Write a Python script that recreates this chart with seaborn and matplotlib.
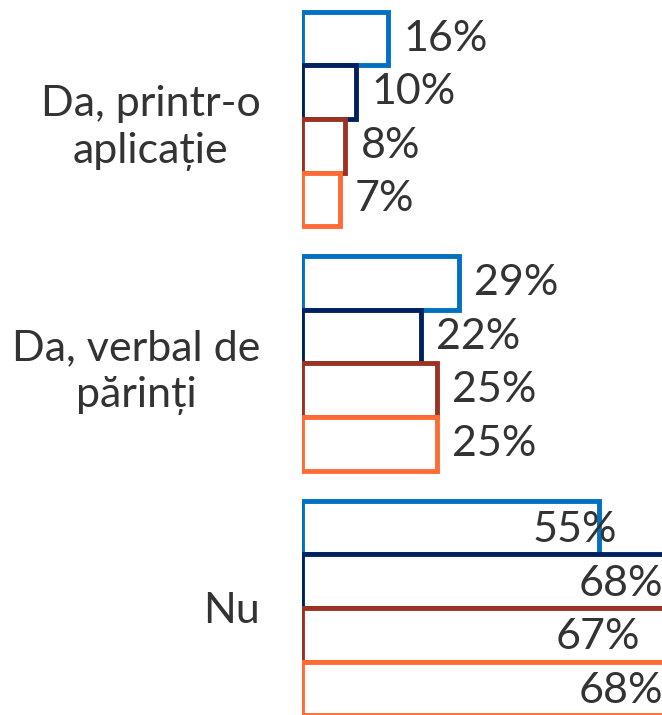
import matplotlib
matplotlib.use("Agg")
import matplotlib.pyplot as plt
import seaborn as sns
import pandas as pd

categories = ["Da, printr-o\naplicație", "Da, verbal de\npărinți", "Nu"]
series = ["Seria 1", "Seria 2", "Seria 3", "Seria 4"]
values_s1 = [16, 29, 55]
values_s2 = [10, 22, 68]
values_s3 = [8, 25, 67]
values_s4 = [7, 25, 68]
colors = ["#0070C0", "#002060", "#9B3324", "#FF6B35"]

rows = []
for s, vals in zip(series, [values_s1, values_s2, values_s3, values_s4]):
    for c, v in zip(categories, vals):
        rows.append({"cat": c, "series": s, "val": v})
df = pd.DataFrame(rows)

sns.set_theme(style="white")
plt.rcParams["font.family"] = ["Lato", "DejaVu Sans"]

fig = plt.figure(figsize=(6.62, 7.15), dpi=100)
ax = fig.add_axes([302 / 662, 0, 1 - 302 / 662, 1])

LW = 3.5
sns.barplot(data=df, y="cat", x="val", hue="series", palette=colors,
            order=categories, hue_order=series, width=0.877,
            orient="h", legend=False, ax=ax, linewidth=LW,
            saturation=1)

for p in ax.patches:
    ec = p.get_facecolor()
    p.set_edgecolor(ec)
    p.set_facecolor("white")
    p.set_linewidth(LW)

ax.set_xlim(0, 66.6)
ax.set_ylim(2.438, -0.487)

text_color = "#333333"
FS = 31
# label anchors for the last group (right-aligned inside due to clipping)
last_group_anchor = {55: 58.2, 68: 66.8, 67: 62.5}
n = len(series)
bw = 0.877 / n
for i, (s, vals) in enumerate(zip(series, [values_s1, values_s2, values_s3, values_s4])):
    for j, v in enumerate(vals):
        y = j - 0.877 / 2 + bw * (i + 0.5)
        if j < 2:
            ax.annotate(f"{v}%", (v, y), xytext=(11, 0), textcoords="offset points",
                        ha="left", va="center", fontsize=FS, color=text_color)
        else:
            ax.text(last_group_anchor[v], y + 0.01, f"{v}%", ha="right", va="center",
                    fontsize=FS, color=text_color, clip_on=False)

ax.set_xlabel("")
ax.set_ylabel("")
ax.set_xticks([])
ax.tick_params(axis="y", length=0, pad=30, labelsize=FS, labelcolor=text_color)
for lbl in ax.get_yticklabels():
    lbl.set_multialignment("center")
    lbl.set_linespacing(1.3)
for sp in ax.spines.values():
    sp.set_visible(False)

fig.savefig("out.png", dpi=100)
